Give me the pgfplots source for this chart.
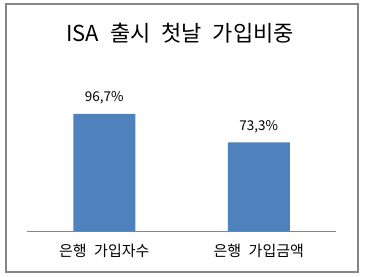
\documentclass[border=0pt]{standalone}
\usepackage{fontspec}
\setmainfont{Noto Sans CJK KR}
\usepackage{pgfplots}
\pgfplotsset{compat=1.18}
\definecolor{barblue}{HTML}{4F81BD}
\definecolor{framegray}{HTML}{868686}
\begin{document}
\begin{tikzpicture}[x=1pt,y=1pt]
\useasboundingbox (0,0) rectangle (366,276);
\draw[framegray, line width=2pt] (6,4.5) rectangle (357.5,272);
\node[anchor=base, font=\fontsize{22}{26}\selectfont, inner sep=0pt] at (180,234) {ISA\enspace 출시\enspace 첫날\enspace 가입비중};
\begin{axis}[
  at={(27pt,45pt)}, anchor=south west, scale only axis,
  width=309pt, height=145.2pt,
  xmin=-0.5, xmax=1.5, ymin=0, ymax=120,
  ybar, bar width=62pt,
  axis x line=bottom, axis y line=none,
  x axis line style={framegray, -, line width=1pt},
  xtick=data, xticklabels={은행\enspace 가입자수, 은행\enspace 가입금액},
  major tick length=0pt, xtick style={draw=none},
  xticklabel style={anchor=base, yshift=-25pt, font=\fontsize{15}{18}\selectfont},
  /pgf/number format/assume math mode=true,
  nodes near coords={\pgfmathprintnumber[fixed, fixed zerofill, precision=1, use comma, assume math mode=true]{\pgfplotspointmeta}\%},
  nodes near coords style={anchor=base, yshift=12pt, font=\fontsize{13.5}{16}\selectfont, text=black},
]
\addplot[fill=barblue, draw=none] coordinates {(0,96.7) (1,73.3)};
\end{axis}
\end{tikzpicture}
\end{document}
